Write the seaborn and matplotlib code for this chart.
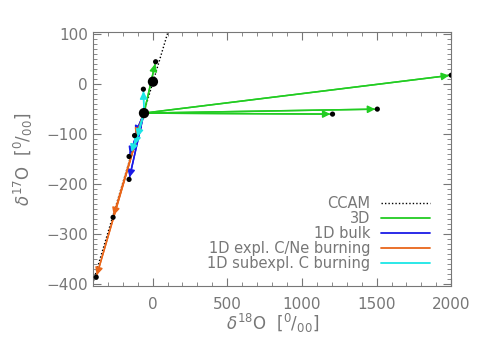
import numpy as np
import pandas as pd
import matplotlib
matplotlib.use('Agg')
import matplotlib.pyplot as plt
import seaborn as sns
from matplotlib.ticker import MultipleLocator
from matplotlib.lines import Line2D

# starting composition (big dots)
start = (-58, -58)
big_x = [-58, 2]
big_y = [-58, 5]

# CCAM reference line
ccam_x = [-450, 150]
ccam_y = [-448, 152]

# arrow end points per model
green_x = [20, 1205, 1505, 2000]
green_y = [45, -60, -50, 18]
blue_x = [-121, -158, -158]
blue_y = [-103, -145, -191]
orange_x = [-118, -265, -378]
orange_y = [-108, -267, -387]
cyan_x = [-62, -105, -122, -146]
cyan_y = [-10, -110, -125, -140]

# small black end points
pts_x = [20, 1205, 1505, 2000, -121, -158, -158, -265, -378, -62]
pts_y = [45, -60, -50, 18, -103, -145, -191, -267, -387, -10]

models = ['3D', '1D bulk', '1D expl. C/Ne burning', '1D subexpl. C burning']
colors = ['#22cc22', '#1a1ae6', '#e8661a', '#1ae6e6']
ends = [(green_x, green_y), (blue_x, blue_y), (orange_x, orange_y), (cyan_x, cyan_y)]

rows = []
for m, (ex, ey) in zip(models, ends):
    for i, (x1, y1) in enumerate(zip(ex, ey)):
        rows.append(dict(model=m, seg=f'{m}{i}', x=start[0], y=start[1]))
        rows.append(dict(model=m, seg=f'{m}{i}', x=x1, y=y1))
seg_df = pd.DataFrame(rows)

sns.set_style('ticks')
plt.rcParams['font.family'] = ['DejaVu Sans']
grey = '#777777'

fig = plt.figure(figsize=(4.79, 3.46), dpi=100)
ax = fig.add_axes([0.194, 0.173, 0.748, 0.735])

sns.lineplot(x=ccam_x, y=ccam_y, ax=ax, color='black', linestyle=(0, (1, 1.5)), lw=1.0, legend=False)
sns.lineplot(data=seg_df, x='x', y='y', hue='model', units='seg', estimator=None, sort=False,
             palette=dict(zip(models, colors)), ax=ax, lw=1.1, legend=False)

for c, (ex, ey) in zip(colors, ends):
    for x1, y1 in zip(ex, ey):
        ax.annotate('', xy=(x1, y1), xytext=start,
                    arrowprops=dict(arrowstyle='-|>', color=c, lw=1.1, mutation_scale=11, shrinkA=0, shrinkB=1.5))

sns.scatterplot(x=pts_x, y=pts_y, ax=ax, color='black', s=14, edgecolor='none', zorder=5)
sns.scatterplot(x=big_x, y=big_y, ax=ax, color='black', s=55, edgecolor='none', zorder=6)

ax.set_xlim(-400, 2000)
ax.set_ylim(-405, 105)
ax.xaxis.set_major_locator(MultipleLocator(500))
ax.xaxis.set_minor_locator(MultipleLocator(100))
ax.yaxis.set_major_locator(MultipleLocator(100))
ax.yaxis.set_minor_locator(MultipleLocator(10))
ax.tick_params(which='both', direction='in', top=True, right=True, colors=grey, labelsize=11)
ax.tick_params(which='major', length=6, width=0.8)
ax.tick_params(which='minor', length=3, width=0.6)
for s in ax.spines.values():
    s.set_color(grey)
    s.set_linewidth(0.8)
ax.tick_params(axis='x', pad=8)

ax.set_xlabel(r'$\delta^{18}$O  [$^{0}/_{00}$]', color=grey, fontsize=12, labelpad=0)
ax.set_ylabel(r'$\delta^{17}$O  [$^{0}/_{00}$]', color=grey, fontsize=12, labelpad=8)

handles = [Line2D([], [], color='black', linestyle=(0, (1, 1.5)), lw=1.0)]
handles += [Line2D([], [], color=c, lw=1.3) for c in colors]
labels = ['CCAM'] + models
leg = ax.legend(handles, labels, loc='lower right', bbox_to_anchor=(0.962, 0.03), frameon=False,
                markerfirst=False, fontsize=10.5, handlelength=3.4, handletextpad=0.7,
                labelspacing=0.0, borderpad=0)
for t in leg.get_texts():
    t.set_color(grey)
    t.set_ha('right')

fig.savefig('out.png', dpi=100)
